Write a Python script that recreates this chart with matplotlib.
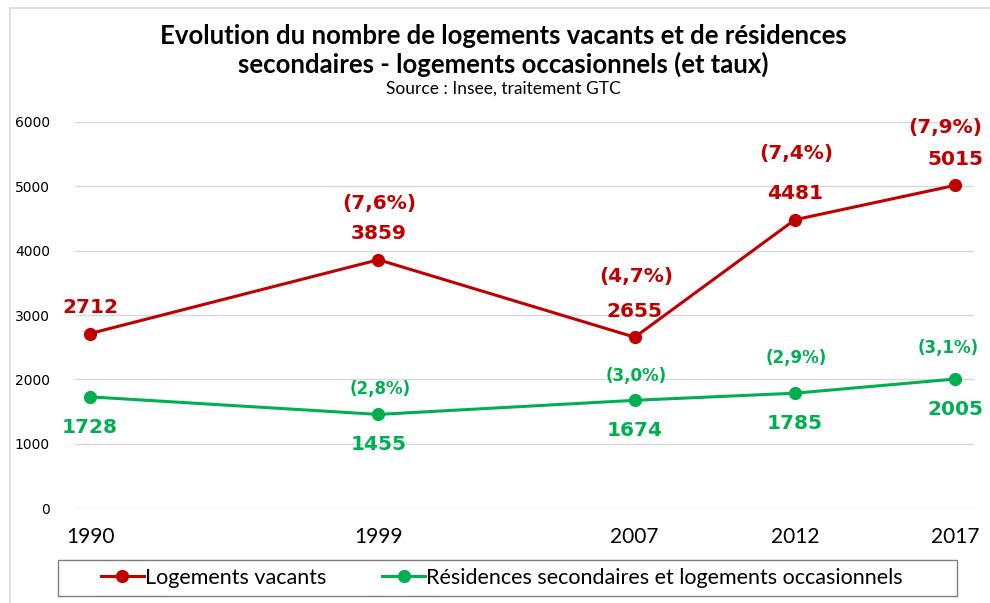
import matplotlib.pyplot as plt
from matplotlib.patches import Rectangle

years = [1990, 1999, 2007, 2012, 2017]
vacants = [2712, 3859, 2655, 4481, 5015]
vacants_taux = ["", "(7,6%)", "(4,7%)", "(7,4%)", "(7,9%)"]
secondaires = [1728, 1455, 1674, 1785, 2005]
secondaires_taux = ["", "(2,8%)", "(3,0%)", "(2,9%)", "(3,1%)"]

RED = "#C00000"
GREEN = "#00B050"
TXT = "Lato"


def main():
    fig = plt.figure(figsize=(9.9, 6.03), dpi=100)
    ax = fig.add_axes([0.0758, 0.1575, 0.9082, 0.6402])

    # cadre du graphique
    fig.patches.append(Rectangle((10 / 990, -0.1), 1.2, 1 - 8 / 603 + 0.1,
                                 transform=fig.transFigure, fill=False,
                                 edgecolor="#D9D9D9", linewidth=1.2))

    ax.plot(years, vacants, color=RED, lw=2.2, marker="o", ms=8.5,
            label="Logements vacants")
    ax.plot(years, secondaires, color=GREEN, lw=2.2, marker="o", ms=8.5,
            label="Résidences secondaires et logements occasionnels")

    # étiquettes de données
    pct_off_red = [0, 22, 25, 29, 23]
    pct_off_green = [0, 12, 11, 19, 16]
    for i, y in enumerate(years):
        ax.annotate(str(vacants[i]), (y, vacants[i]), xytext=(0, 12),
                    textcoords="offset points", ha="center", va="bottom",
                    color=RED, fontsize=14.5, fontweight="bold")
        if vacants_taux[i]:
            ax.annotate(vacants_taux[i], (y, vacants[i]),
                        xytext=(1 if i < 4 else -7, 12 + pct_off_red[i]),
                        textcoords="offset points", ha="center", va="bottom",
                        color=RED, fontsize=14.5, fontweight="bold")
        ax.annotate(str(secondaires[i]), (y, secondaires[i]), xytext=(0, -15),
                    textcoords="offset points", ha="center", va="top",
                    color=GREEN, fontsize=14.5, fontweight="bold")
        if secondaires_taux[i]:
            ax.annotate(secondaires_taux[i], (y, secondaires[i]),
                        xytext=(1 if i < 4 else -5, pct_off_green[i]),
                        textcoords="offset points", ha="center", va="bottom",
                        color=GREEN, fontsize=12, fontweight="bold")

    ax.set_xlim(1990 - 15 / 32, 2017 + 19 / 32)
    ax.set_ylim(0, 6000)
    ax.set_yticks(range(0, 6001, 1000))
    ax.set_xticks(years)
    ax.set_xticklabels([str(y) for y in years], fontsize=15, family=TXT)
    ax.tick_params(axis="y", length=0, pad=18, labelsize=10)
    ax.tick_params(axis="x", length=0, pad=14)
    ax.grid(axis="y", color="#D9D9D9", lw=1)
    ax.set_axisbelow(True)
    for s in ax.spines.values():
        s.set_visible(False)

    fig.text(0.508, 0.940, "Evolution du nombre de logements vacants et de résidences",
             ha="center", va="center", fontsize=18.5, fontweight="bold", family=TXT)
    fig.text(0.508, 0.894, "secondaires - logements occasionnels (et taux)",
             ha="center", va="center", fontsize=18.5, fontweight="bold", family=TXT)
    fig.text(0.508, 0.853, "Source : Insee, traitement GTC",
             ha="center", va="center", fontsize=12.5, family=TXT)

    fig.legend(loc="center", bbox_to_anchor=(0.507, 0.0415), ncol=2,
               frameon=False, prop={"family": TXT, "size": 15.5},
               handlelength=2.0, handletextpad=0.05, columnspacing=2.6)
    fig.patches.append(Rectangle((58 / 990, 7 / 603), 899 / 990, 36 / 603,
                                 transform=fig.transFigure, fill=False,
                                 edgecolor="#7F7F7F", linewidth=1))

    fig.savefig("out.png", dpi=100)


if __name__ == "__main__":
    main()
